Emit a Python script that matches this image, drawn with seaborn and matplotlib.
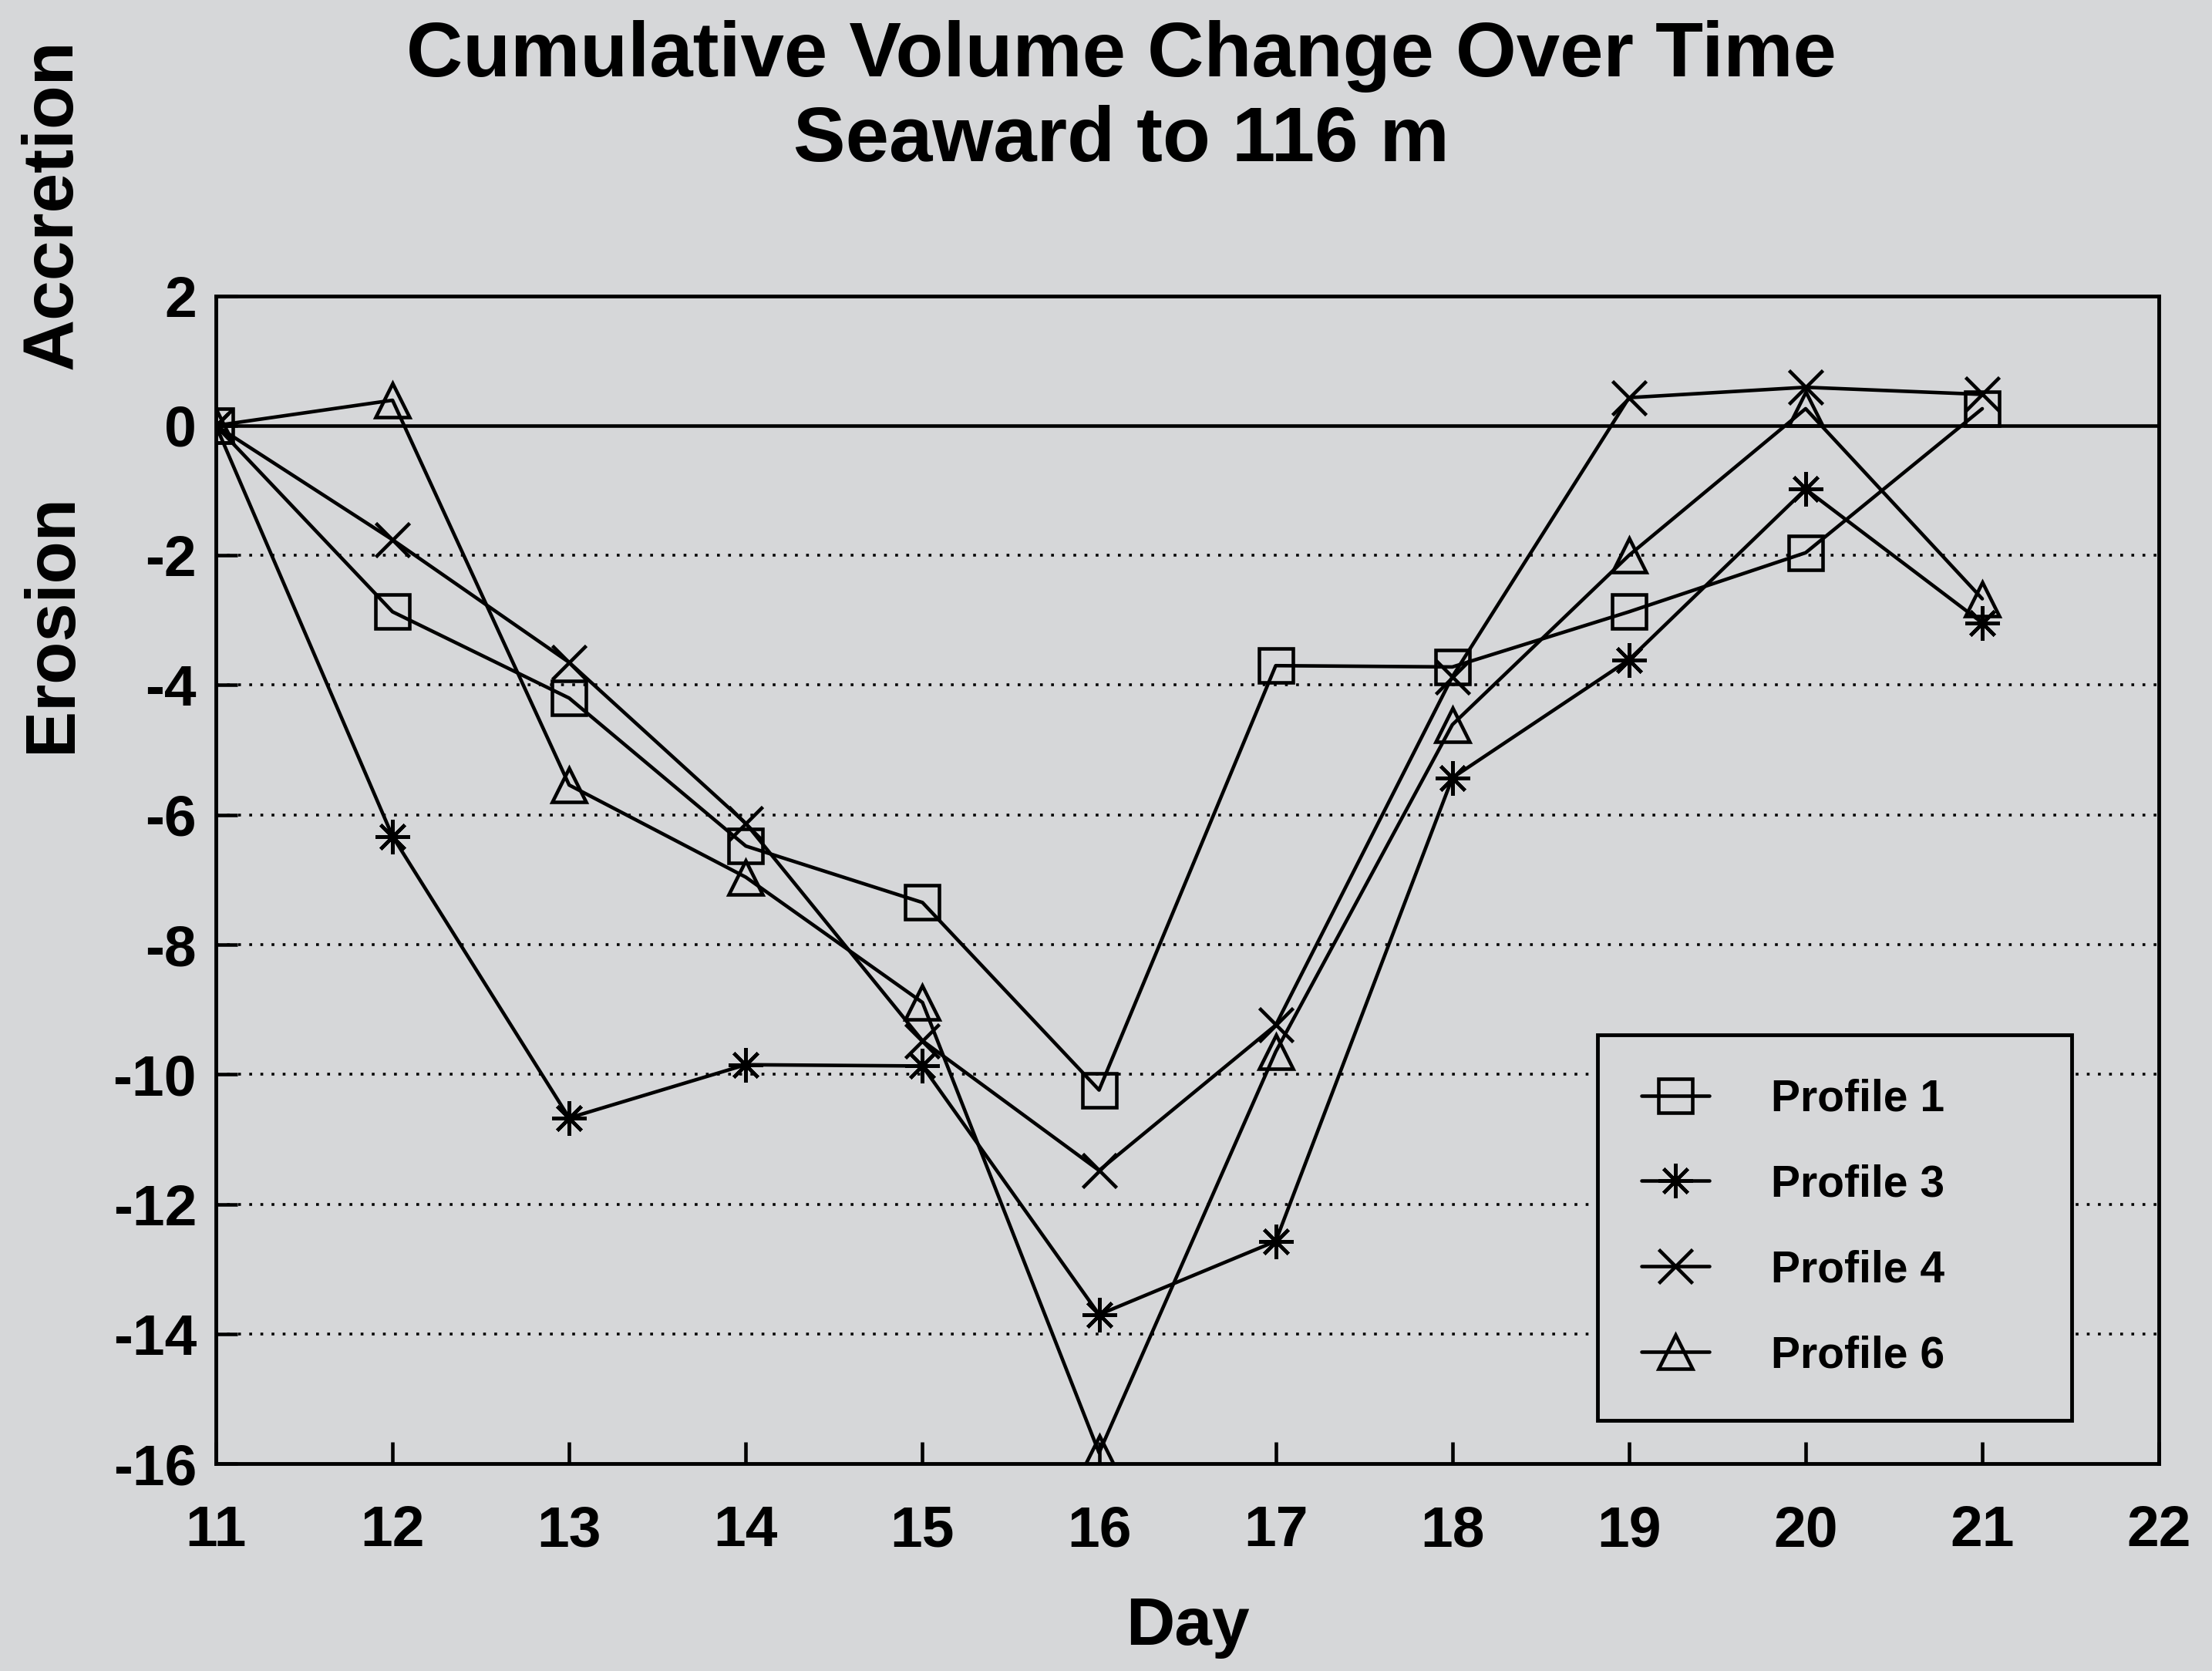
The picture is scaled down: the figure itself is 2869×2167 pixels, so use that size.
import pandas as pd
import matplotlib
matplotlib.use('Agg')
import matplotlib.pyplot as plt
import seaborn as sns

# values
days = [11, 12, 13, 14, 15, 16, 17, 18, 19, 20, 21]
profile_1 = [0, -2.87, -4.2, -6.48, -7.35, -10.24, -3.7, -3.72, -2.87, -1.96, 0.26]
profile_3 = [0, -6.33, -10.67, -9.85, -9.87, -13.7, -12.57, -5.43, -3.61, -0.98, -3.04]
profile_4 = [0, -1.76, -3.65, -6.13, -9.48, -11.48, -9.24, -3.87, 0.43, 0.59, 0.48]
profile_6 = [0, 0.39, -5.54, -6.96, -8.89, -15.83, -9.65, -4.61, -2.0, 0.26, -2.67]

labels = ['Profile 1', 'Profile 3', 'Profile 4', 'Profile 6']
markers = ['s', (8, 2, 0), 'x', '^']
x_ticks = list(range(11, 23))
y_ticks = list(range(-16, 3, 2))
grid_levels = [-2, -4, -6, -8, -10, -12, -14]

bg = '#d6d7d9'

sns.set_style('ticks')
plt.rcParams['font.family'] = ['Liberation Sans', 'DejaVu Sans']
plt.rcParams['font.weight'] = 'bold'
plt.rcParams['axes.unicode_minus'] = False
for key in ['text.color', 'axes.labelcolor', 'xtick.color', 'ytick.color']:
    plt.rcParams[key] = 'black'

fig = plt.figure(figsize=(28.69, 21.67), dpi=100, facecolor=bg)
ax = fig.add_axes([0.0976, 0.124, 0.8784, 0.699])
ax.set_facecolor(bg)

df = pd.DataFrame({'day': days, 'Profile 1': profile_1, 'Profile 3': profile_3,
                   'Profile 4': profile_4, 'Profile 6': profile_6})

for lab, mk in zip(labels, markers):
    sns.lineplot(x='day', y=lab, data=df, ax=ax, color='black', lw=3.3,
                 marker=mk, markersize=32, mfc='none', mec='black', mew=3.3,
                 label=lab, zorder=3)

for lev in grid_levels:
    ax.axhline(lev, color='black', lw=2.6, dashes=(1, 3.0), zorder=1)
ax.axhline(0, color='black', lw=3.3, zorder=2)

ax.set_xlim(11, 22)
ax.set_ylim(-16, 2)
ax.set_xticks(x_ticks)
ax.set_yticks(y_ticks)
ax.tick_params(direction='in', length=20, width=3.3, labelsize=54)
ax.tick_params(axis='x', pad=38)
ax.tick_params(axis='y', pad=18)
for sp in ax.spines.values():
    sp.set_linewidth(3.5)
    sp.set_color('black')

ax.set_xlabel('Day', fontsize=63, fontweight='bold', labelpad=36)
ax.set_ylabel('')

fig.suptitle('Cumulative Volume Change Over Time\nSeaward to 116 m', x=0.507, y=0.941,
             va='center', fontsize=73, fontweight='bold', linespacing=1.22)
fig.text(0.024, 0.878, 'Accretion', rotation=90, ha='center', va='center',
         fontsize=67, fontweight='bold')
fig.text(0.024, 0.627, 'Erosion', rotation=90, ha='center', va='center',
         fontsize=65, fontweight='bold')

leg = ax.legend(loc='lower left', bbox_to_anchor=(0.711, 0.037, 0.244, 0.341),
                mode='expand', fontsize=41, frameon=True, fancybox=False,
                facecolor=bg, edgecolor='black', framealpha=1,
                labelspacing=1.0, handlelength=1.55, handletextpad=1.4,
                borderpad=1.0, borderaxespad=0)
leg.get_frame().set_linewidth(3.5)
for t in leg.get_texts():
    t.set_fontweight('bold')

fig.savefig('out.png', dpi=100, facecolor=bg)
